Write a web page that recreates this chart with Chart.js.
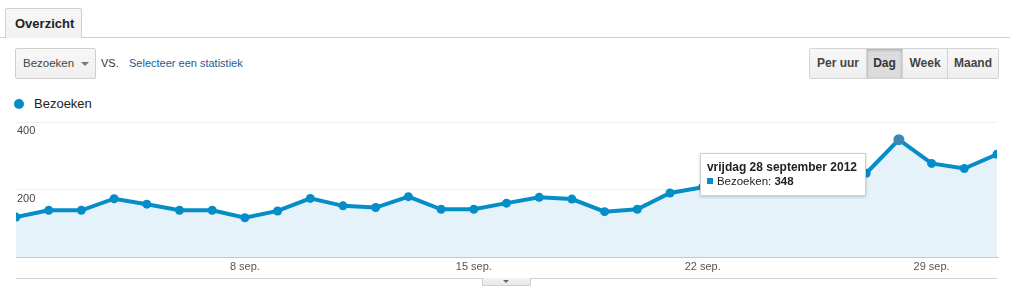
<!DOCTYPE html>
<html>
<head>
<meta charset="utf-8">
<script src="https://cdn.jsdelivr.net/npm/chart.js@4"></script>
<style>
  html, body { margin:0; padding:0; background:#fff; }
  body { width:1010px; height:289px; position:relative; overflow:hidden; font-family: Arial, "Liberation Sans", sans-serif; color:#333; }
  .topline { position:absolute; left:0; top:37px; width:1010px; height:1px; background:#cfcfcf; }
  .tab { position:absolute; left:5px; top:8px; width:77px; height:30px; border:1px solid #cfcfcf; border-bottom:none; border-radius:2px 2px 0 0;
         background:linear-gradient(#f7f7f7,#f1f1f1); box-sizing:border-box; font-weight:bold; font-size:13px; color:#222; line-height:30px; padding-left:9px; z-index:2; }
  .dd { position:absolute; left:15px; top:48px; width:81px; height:31px; box-sizing:border-box; border:1px solid #cfcfcf; border-radius:2px;
        background:linear-gradient(#f8f8f8,#efefef); font-size:11.5px; color:#444; line-height:29px; padding-left:7px; }
  .dd .arr { position:absolute; left:65px; top:13px; width:0; height:0; border-left:4px solid transparent; border-right:4px solid transparent; border-top:4px solid #777; }
  .vs { position:absolute; left:101px; top:57px; font-size:11px; color:#333; }
  .link { position:absolute; left:129px; top:57px; font-size:11px; color:#235c91; }
  .btns { position:absolute; left:809px; top:48px; height:31px; display:flex; border:1px solid #d3d3d3; border-radius:2px; box-sizing:border-box; }
  .btns div { height:29px; line-height:29px; font-size:12px; font-weight:bold; color:#444; background:linear-gradient(#f8f8f8,#eeeeee); border-left:1px solid #d3d3d3; text-align:center; box-sizing:border-box; }
  .btns div:first-child { border-left:none; }
  .btns .on { background:#dcdcdc; box-shadow: inset 0 1px 3px rgba(0,0,0,0.25); color:#333; }
  .legend { position:absolute; left:14px; top:96px; font-size:13px; color:#222; }
  .legend .dot { position:absolute; left:0; top:3px; width:10px; height:10px; border-radius:50%; background:#058dc7; }
  .legend span.t { position:absolute; left:20px; top:0; white-space:nowrap; line-height:16px; }
  #wrap { position:absolute; left:0; top:114px; width:1010px; height:163px; }
  .bottomline { position:absolute; left:16px; top:278px; width:981px; height:1px; background:#d0d0d0; }
  .pull { position:absolute; left:482px; top:278px; width:49px; height:8px; box-sizing:border-box; border:1px solid #cfcfcf; border-top:none; background:linear-gradient(#f2f2f2,#e8e8e8); }
  .pull i { position:absolute; left:20px; top:2px; width:0; height:0; border-left:3px solid transparent; border-right:3px solid transparent; border-top:3px solid #666; }
  #tip { position:absolute; background:#fff; border:1px solid #cfcfcf; box-shadow:0 1px 3px rgba(0,0,0,0.2); padding:6px 8px 6px 6px; white-space:nowrap; z-index:5; }
  #tip .ti { font-weight:bold; font-size:12px; color:#222; line-height:14px; }
  #tip .bd { font-size:11.5px; color:#222; line-height:15px; }
  #tip .sq { display:inline-block; width:6px; height:6px; background:#058dc7; margin-right:4px; vertical-align:1px; }
</style>
</head>
<body>
<div class="tab">Overzicht</div>
<div class="topline"></div>
<div class="dd">Bezoeken<span class="arr"></span></div>
<div class="vs">VS.</div>
<div class="link">Selecteer een statistiek</div>
<div class="btns">
  <div style="width:56px">Per uur</div>
  <div class="on" style="width:36px">Dag</div>
  <div style="width:45px">Week</div>
  <div style="width:51px">Maand</div>
</div>
<div class="legend"><span class="dot"></span><span class="t">Bezoeken</span></div>
<div id="wrap"><canvas id="c"></canvas></div>
<div class="bottomline"></div>
<div class="pull"><i></i></div>
<div id="tip"><div class="ti" id="tipTitle"></div><div class="bd"><span class="sq"></span><span id="tipLabel"></span>: <b id="tipVal"></b></div></div>

<script>
// Categories: daily, 1 september 2012 .. 1 oktober 2012
const days = ['1 sep.','2 sep.','3 sep.','4 sep.','5 sep.','6 sep.','7 sep.','8 sep.','9 sep.','10 sep.',
  '11 sep.','12 sep.','13 sep.','14 sep.','15 sep.','16 sep.','17 sep.','18 sep.','19 sep.','20 sep.',
  '21 sep.','22 sep.','23 sep.','24 sep.','25 sep.','26 sep.','27 sep.','28 sep.','29 sep.','30 sep.','1 okt.'];
const bezoeken = [120,140,140,174,158,140,140,118,138,175,
  153,148,180,143,143,161,178,173,136,143,
  191,208,218,230,240,236,249,348,278,263,305];
const shownTicks = ['8 sep.','15 sep.','22 sep.','29 sep.'];
const yTicks = [0,200,400];
const seriesName = 'Bezoeken';
const tooltipIndex = 27;
const tooltipTitle = 'vrijdag 28 september 2012';

const blue = '#058dc7';
const radii = bezoeken.map((v,i) => i === tooltipIndex ? 5.5 : 4.5);
const pColors = bezoeken.map((v,i) => i === tooltipIndex ? '#3d87b3' : blue);

const tipPlugin = {
  id: 'tipPlugin',
  afterRender(chart) {
    const px = chart.scales.x.getPixelForValue(tooltipIndex);
    const py = chart.scales.y.getPixelForValue(bezoeken[tooltipIndex]);
    const wrap = document.getElementById('wrap');
    const tip = document.getElementById('tip');
    document.getElementById('tipTitle').textContent = tooltipTitle;
    document.getElementById('tipLabel').textContent = seriesName;
    document.getElementById('tipVal').textContent = bezoeken[tooltipIndex];
    const w = tip.offsetWidth;
    tip.style.left = (wrap.offsetLeft + px - 33 - w) + 'px';
    tip.style.top = (wrap.offsetTop + py + 13) + 'px';
  }
};

new Chart(document.getElementById('c'), {
  type: 'line',
  data: {
    labels: days,
    datasets: [{
      label: seriesName,
      data: bezoeken,
      borderColor: blue,
      borderWidth: 4,
      backgroundColor: '#e6f2f9',
      fill: 'origin',
      tension: 0,
      pointRadius: radii,
      pointBackgroundColor: pColors,
      pointBorderWidth: 0,
      clip: 0
    }]
  },
  options: {
    responsive: true,
    maintainAspectRatio: false,
    animation: false,
    events: [],
    layout: { padding: { left: 14, right: 13, top: 8, bottom: 0 } },
    plugins: { legend: { display: false }, tooltip: { enabled: false } },
    scales: {
      x: {
        offset: false,
        grid: { display: false, drawTicks: false },
        border: { display: true, color: '#a8a8a8', width: 1 },
        ticks: {
          autoSkip: false, maxRotation: 0, padding: 3,
          color: '#555', font: { family: 'Arial, "Liberation Sans", sans-serif', size: 11 },
          callback: function(v, i) { const l = this.getLabelForValue(v); return shownTicks.includes(l) ? l : ''; }
        }
      },
      y: {
        min: 0, max: 400,
        afterBuildTicks: (axis) => { axis.ticks = yTicks.map(v => ({ value: v })); },
        grid: { drawTicks: false, color: (ctx) => ctx.tick && ctx.tick.value === 0 ? 'rgba(0,0,0,0)' : '#efefef' },
        border: { display: false },
        ticks: {
          mirror: true, padding: 1, labelOffset: 9,
          color: '#444', font: { family: 'Arial, "Liberation Sans", sans-serif', size: 11 },
          callback: (v) => v === 0 ? '' : String(v)
        }
      }
    }
  },
  plugins: [tipPlugin]
});
</script>
</body>
</html>
